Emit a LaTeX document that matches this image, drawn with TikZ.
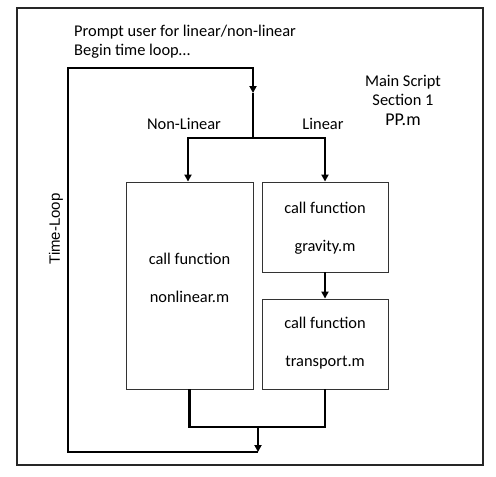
\documentclass[tikz,border=0pt]{standalone}
\usepackage{fontspec}
\setmainfont{Carlito}
\newfontfamily\arialfont{Liberation Sans}
\usetikzlibrary{arrows.meta}
\begin{document}
\begin{tikzpicture}[x=1pt,y=-1pt,
  frame/.style={draw=black!85,line width=1.2pt},
  fbox/.style={draw=black!80,line width=0.9pt,minimum width=#1,inner sep=0pt},
  conn/.style={draw=black,line width=2.3pt},
  arr/.style={conn,-{Triangle[length=7pt,width=7pt]}},
  txt/.style={anchor=base,font=\fontsize{16.4}{19}\selectfont,text=black,inner sep=0pt},
  ltxt/.style={txt,anchor=base west}]
\useasboundingbox (0,0) rectangle (496,477);
\draw[frame] (17,8) rectangle (483,465);
% boxes
\node[fbox=127pt,minimum height=207pt] (nl) at (189.5,285.5) {};
\node[fbox=126pt,minimum height=90pt] (gr) at (325,227) {};
\node[fbox=126pt,minimum height=90pt] (tr) at (325,344) {};
% texts
\node[ltxt] (t1) at (74,36) {Prompt user for linear/non-linear};
\node[ltxt] (t2) at (74,55) {Begin time loop…};
\node[txt] (ms1) at (403,86) {Main Script};
\node[txt] (ms2) at (403,105) {Section 1};
\node[txt,font=\fontsize{18}{20}\selectfont] (ms3) at (403,125) {PP.m};
\node[txt] (lnl) at (184,129) {Non-Linear};
\node[txt] (ll) at (323,129) {Linear};
\node[txt] (g1) at (325,213) {call function};
\node[txt] (g2) at (325,251) {gravity.m};
\node[txt] (n1) at (189.5,264) {call function};
\node[txt] (n2) at (189.5,302) {nonlinear.m};
\node[txt] (r1) at (325,328) {call function};
\node[txt] (r2) at (325,366) {transport.m};
\node[anchor=center,rotate=90,font=\arialfont\fontsize{15}{18}\selectfont,inner sep=0pt] (tl) at (56,229) {Time-Loop};
% coordinates
\coordinate (c1) at (68,68);
\coordinate (c2) at (253,68);
\coordinate (a1) at (253,93);
\coordinate (j1) at (253,138);
\coordinate (jl) at (188,138);
\coordinate (jr) at (325,138);
\coordinate (m) at (258,427);
\coordinate (b2) at (258,452);
\coordinate (b1) at (68,452);
% connectors
\draw[arr] (b2) -- (b1) -- (c1) -- (c2) -- (a1);
\draw[conn] (a1) -- (j1);
\draw[arr] (j1) -- (jl) -- (jl |- nl.north);
\draw[arr] (j1) -- (jr) -- (jr |- gr.north);
\draw[arr] (gr.south) -- (tr.north);
\draw[conn] (nl.south) -- (nl.south |- m) -- (tr.south |- m) -- (tr.south);
\draw[arr] (m) -- (b2);
\end{tikzpicture}
\end{document}
